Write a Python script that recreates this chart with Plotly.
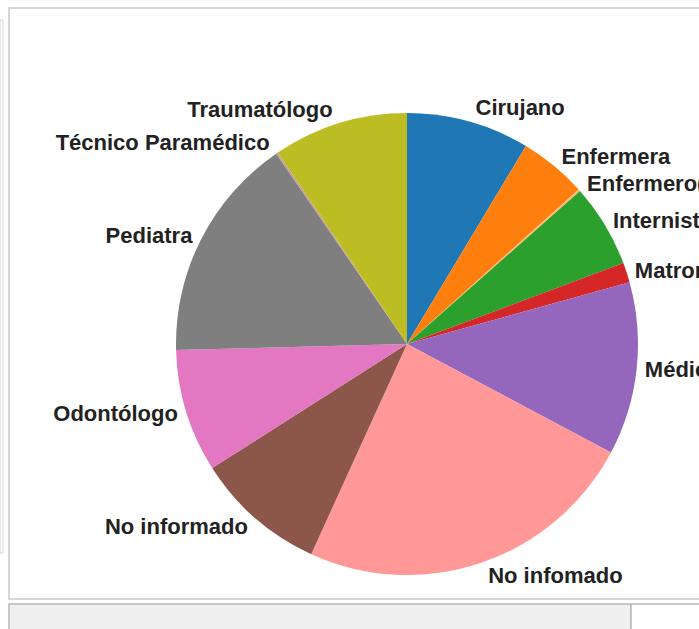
import plotly.graph_objects as go

# Profesionales por especialidad
labels = [
    "Cirujano", "Enfermera", "Enfermero(a)", "Internista", "Matrona",
    "Médico atención primaria", "No infomado", "No informado", "Odontólogo",
    "Pediatra", "Técnico Paramédico", "Traumatólogo",
]
counts = [62, 34, 1, 42, 10, 87, 173, 66, 62, 114, 1, 68]
colors = [
    "#1f77b4", "#ff7f0e", "#ffbb78", "#2ca02c", "#d62728",
    "#9467bd", "#ff9896", "#8c564b", "#e377c2",
    "#7f7f7f", "#c49c94", "#bcbd22",
]

W, H = 699, 629
cx, cy, r = 407, 344, 231
r_lab = 233  # radius the outside labels are laid out from

label_font = dict(family="Liberation Sans, Arial, sans-serif", size=22,
                  color="#222222", weight="bold")


def dom(radius):
    return dict(
        x=[(cx - radius) / W, (cx + radius) / W],
        y=[(H - cy - radius) / H, (H - cy + radius) / H],
    )


common = dict(labels=labels, values=counts, sort=False, direction="clockwise",
              rotation=0, showlegend=False, automargin=False)

fig = go.Figure()

# transparent ring carrying the slice labels
fig.add_trace(go.Pie(
    **common,
    marker=dict(colors=["rgba(0,0,0,0)"] * len(labels), line=dict(width=0)),
    textinfo="label",
    textposition="outside",
    outsidetextfont=label_font,
    hoverinfo="skip",
    domain=dom(r_lab),
))

# the pie itself
fig.add_trace(go.Pie(
    **common,
    marker=dict(colors=colors, line=dict(width=0)),
    textinfo="none",
    hoverinfo="label+value+percent",
    domain=dom(r),
))


def px_rect(x0, y0, x1, y1, **kw):
    return dict(type="rect", xref="paper", yref="paper",
                x0=x0 / W, x1=x1 / W, y0=1 - y0 / H, y1=1 - y1 / H, **kw)


shapes = [
    # thin side panel on the left
    px_rect(0, 20, 3, 553, line=dict(color="#d4d4d4", width=1), fillcolor="rgba(0,0,0,0)", layer="below"),
    # main chart frame
    px_rect(9, 8, 712, 599, line=dict(color="#d6d6d6", width=2), fillcolor="rgba(0,0,0,0)", layer="below"),
    # toolbar strip along the bottom
    px_rect(9, 604, 631, 640, line=dict(color="#b8b8b8", width=1.5), fillcolor="#efefef", layer="below"),
    px_rect(631, 604, 712, 640, line=dict(color="#b8b8b8", width=1.5), fillcolor="#ffffff", layer="below"),
]

fig.update_layout(
    width=W, height=H,
    margin=dict(l=0, r=0, t=0, b=0),
    paper_bgcolor="white",
    plot_bgcolor="white",
    shapes=shapes,
)

fig.write_html("out.html")
